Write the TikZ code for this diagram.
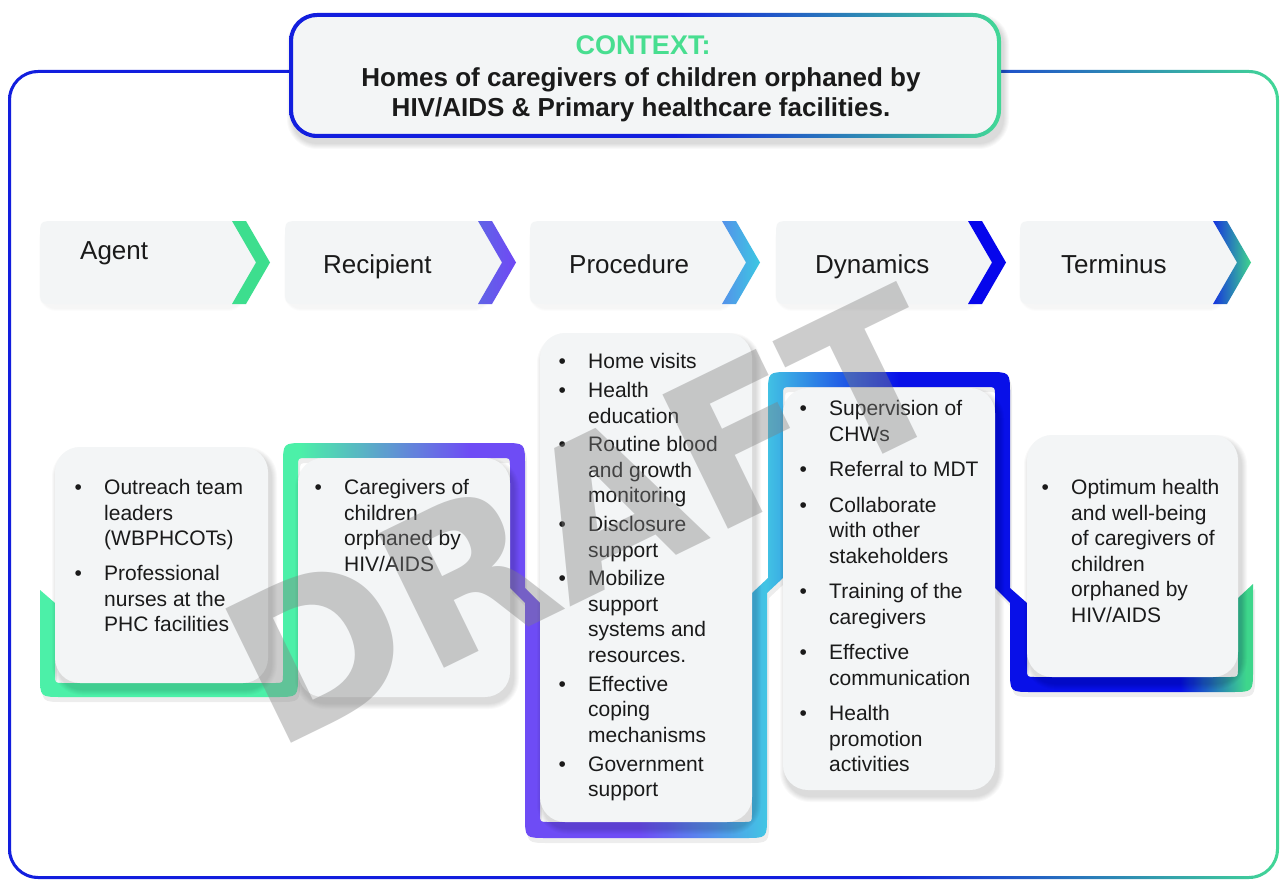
\documentclass[tikz,border=0pt]{standalone}
\usepackage{fontspec}
\setmainfont{Liberation Sans}
\newfontfamily\stampfont{DejaVu Sans}

\definecolor{boxfill}{RGB}{243,245,246}
\definecolor{inkblack}{RGB}{26,26,26}
\definecolor{bandgreen}{RGB}{76,240,168}
\definecolor{bandpurple}{RGB}{110,76,245}
\definecolor{bandcyan}{RGB}{66,196,228}
\definecolor{bandblue}{RGB}{8,16,232}
\definecolor{endgreen}{RGB}{62,214,140}
\definecolor{frameblue}{RGB}{18,30,222}
\definecolor{framegreen}{RGB}{66,216,150}
\definecolor{ctxgreen}{RGB}{72,222,144}
\definecolor{chevgreen}{RGB}{61,222,142}
\definecolor{chevpurpleA}{RGB}{96,100,230}
\definecolor{chevpurpleB}{RGB}{112,72,245}
\definecolor{chevblueA}{RGB}{84,146,234}
\definecolor{chevblueB}{RGB}{60,200,226}
\definecolor{chevdeep}{RGB}{6,6,236}
\definecolor{chevnavy}{RGB}{22,52,222}
\definecolor{watergray}{RGB}{128,128,128}

% colour runs along the meandering band, left to right
\pgfdeclarehorizontalshading{bandshade}{100bp}{color(0bp)=(bandgreen); color(35.7bp)=(bandgreen); color(42.7bp)=(bandpurple); color(49.7bp)=(bandpurple); color(54.9bp)=(bandcyan); color(60.4bp)=(bandblue); color(72bp)=(bandblue); color(74.7bp)=(endgreen); color(100bp)=(endgreen)}
\pgfdeclarehorizontalshading{frameshade}{100bp}{color(0bp)=(frameblue); color(60bp)=(frameblue); color(75bp)=(framegreen); color(100bp)=(framegreen)}
\pgfdeclarehorizontalshading{headshade}{100bp}{color(0bp)=(frameblue); color(52bp)=(frameblue); color(75bp)=(framegreen); color(100bp)=(framegreen)}

% soft drop shadow under a rounded card, then the card itself
\newcommand\softshadow[5]{%
  \foreach \k in {1,...,6}{%
    \fill[black,opacity=#5,rounded corners=24+\k] (#1-\k+3,#2-\k+6) rectangle (#3+\k+3,#4+\k+6);}}
\newcommand\card[4]{%
  \softshadow{#1}{#2}{#3}{#4}{0.025}%
  \fill[boxfill,rounded corners=25] (#1,#2) rectangle (#3,#4);}

% grey tab with a notch on its right side
\newcommand\tab[4]{% left x, chevron x, top y, bottom y
  \foreach \k in {1,...,3}{%
    \fill[black,opacity=0.012,rounded corners=14+\k] (#1-\k+2,#3-\k+4) rectangle (#2+10+\k,#4+\k+4);}
  \fill[boxfill] (#2,#3) -- (#2+24,{(#3+#4)/2}) -- (#2,#4) -- (#1+16,#4)
     .. controls (#1,#4) .. (#1,#4-16) -- (#1,#3+16) .. controls (#1,#3) .. (#1+16,#3) -- cycle;}
\newcommand\chevron[4]{% chevron x, top y, bottom y, paint
  \path[#4] (#1,#2) -- (#1+14,#2) -- (#1+38,{(#2+#3)/2}) -- (#1+14,#3) -- (#1,#3)
     -- (#1+24,{(#2+#3)/2}) -- cycle;}

% the meandering coloured band behind the cards
\newcommand\band[1]{%
  \path[#1] (40,590) -- (40,675) .. controls (40,697) .. (62,697) -- (276,697)
    .. controls (298,697) .. (298,675) -- (298,466) .. controls (298,458) .. (306,458)
    -- (502,458) .. controls (510,458) .. (510,466) -- (510,588) -- (525,603)
    -- (525,816) .. controls (525,838) .. (547,838) -- (745,838) .. controls (767,838) .. (767,816)
    -- (767,593) -- (783,578) -- (783,395) .. controls (783,387) .. (791,387)
    -- (987,387) .. controls (995,387) .. (995,395) -- (995,588) -- (1010,603)
    -- (1010,670) .. controls (1010,692) .. (1032,692) -- (1231,692) .. controls (1253,692) .. (1253,670)
    -- (1253,584) -- (1238,598) -- (1238,669) .. controls (1238,677) .. (1230,677)
    -- (1035,677) .. controls (1027,677) .. (1027,669) -- (1027,603) -- (1010,588)
    -- (1010,394) .. controls (1010,372) .. (988,372) -- (790,372) .. controls (768,372) .. (768,394)
    -- (768,578) -- (752,593) -- (752,814) .. controls (752,822) .. (744,822)
    -- (548,822) .. controls (540,822) .. (540,814) -- (540,603) -- (525,588)
    -- (525,465) .. controls (525,443) .. (503,443) -- (305,443) .. controls (283,443) .. (283,465)
    -- (283,675) .. controls (283,683) .. (275,683) -- (63,683) .. controls (55,683) .. (55,675)
    -- (55,603) -- cycle;}

\newcommand\bul{\makebox[29.5pt][l]{\textbullet}}

\begin{document}
\begin{tikzpicture}[x=1pt,y=-1pt,
  listtext/.style={inner sep=0pt,anchor=north west,text=inkblack,
    font=\fontsize{21}{25.5}\selectfont},
  tablabel/.style={inner sep=0pt,anchor=base west,text=inkblack,
    font=\fontsize{26}{30}\selectfont},
  headline/.style={inner sep=0pt,anchor=base,text=inkblack,
    font=\bfseries\fontsize{26}{30}\selectfont}]
\useasboundingbox (0,0) rectangle (1280,880);
\fill[white] (0,0) rectangle (1280,880);

% page frame
\path[shade,shading=frameshade,even odd rule]
  [rounded corners=30] (8,70) rectangle (1279,879)
  [rounded corners=27] (11,73) rectangle (1276,876);

% context banner
\softshadow{290}{14}{1000}{137}{0.025}
\fill[boxfill,rounded corners=26] (291,15) rectangle (999,136);
\path[shade,shading=headshade,even odd rule]
  [rounded corners=28] (289,13) rectangle (1001,138)
  [rounded corners=24] (293,17) rectangle (997,134);
\node[inner sep=0pt,anchor=base,text=ctxgreen,font=\bfseries\fontsize{27}{30}\selectfont]
  (ctx) at (643,54.7) {CONTEXT:};
\node[headline] (ctxone) at (641,86.3) {Homes of caregivers of children orphaned by};
\node[headline] (ctxtwo) at (641,116.3) {HIV/AIDS \& Primary healthcare facilities.};

% stage tabs
\tab{40}{232}{221}{304}
\chevron{232}{221}{304}{fill=chevgreen}
\tab{285}{478}{221}{304}
\chevron{478}{221}{304}{left color=chevpurpleA,right color=chevpurpleB}
\tab{530}{722}{221}{304}
\chevron{722}{221}{304}{left color=chevblueA,right color=chevblueB}
\tab{776}{968}{221}{304}
\chevron{968}{221}{304}{fill=chevdeep}
\tab{1020}{1213}{221}{304}
\chevron{1213}{221}{304}{left color=chevnavy,right color=endgreen}

\node[tablabel] (lagent) at (80,259.5) {Agent};
\node[tablabel] (lrecipient) at (323,273.5) {Recipient};
\node[tablabel] (lprocedure) at (569,273.5) {Procedure};
\node[tablabel] (ldynamics) at (815,273.5) {Dynamics};
\node[tablabel] (lterminus) at (1061,273.5) {Terminus};

% band with its shadow
\begin{scope}[xshift=2pt,yshift=-5pt]
  \band{fill=black,opacity=0.07}
\end{scope}
\band{shade,shading=bandshade}

% cards
\card{55}{447}{268}{683}
\card{298}{458}{510}{697}
\card{540}{333}{752}{822}
\card{783}{388}{995}{790}
\card{1027}{435}{1238}{677}

\node[listtext] (agentlist) at (74.5,476.65) {\begin{tabular}{@{}l@{}l@{}}
  \bul & Outreach team\\ & leaders\\ & (WBPHCOTs)\\[9.5pt]
  \bul & Professional\\ & nurses at the\\ & PHC facilities
\end{tabular}};

\node[listtext] (recipientlist) at (314.5,476.65) {\begin{tabular}{@{}l@{}l@{}}
  \bul & Caregivers of\\ & children\\ & orphaned by\\ & HIV/AIDS
\end{tabular}};

\node[listtext] (procedurelist) at (558.5,350.65) {\begin{tabular}{@{}l@{}l@{}}
  \bul & Home visits\\[3.3pt]
  \bul & Health\\ & education\\[3.3pt]
  \bul & Routine blood\\ & and growth\\ & monitoring\\[3.3pt]
  \bul & Disclosure\\ & support\\[3.3pt]
  \bul & Mobilize\\ & support\\ & systems and\\ & resources.\\[3.3pt]
  \bul & Effective\\ & coping\\ & mechanisms\\[3.3pt]
  \bul & Government\\ & support
\end{tabular}};

\node[listtext] (dynamicslist) at (799.5,397.65) {\begin{tabular}{@{}l@{}l@{}}
  \bul & Supervision of\\ & CHWs\\[10pt]
  \bul & Referral to MDT\\[10pt]
  \bul & Collaborate\\ & with other\\ & stakeholders\\[10pt]
  \bul & Training of the\\ & caregivers\\[10pt]
  \bul & Effective\\ & communication\\[10pt]
  \bul & Health\\ & promotion\\ & activities
\end{tabular}};

\node[listtext] (terminuslist) at (1041.5,476.65) {\begin{tabular}{@{}l@{}l@{}}
  \bul & Optimum health\\ & and well-being\\ & of caregivers of\\ & children\\ & orphaned by\\ & HIV/AIDS
\end{tabular}};

% watermark
\node[inner sep=0pt,rotate=26,text=watergray,text opacity=0.4,
  font=\stampfont\bfseries\fontsize{205}{205}\selectfont] (draft) at (586,516) {DRAFT};
\end{tikzpicture}
\end{document}
